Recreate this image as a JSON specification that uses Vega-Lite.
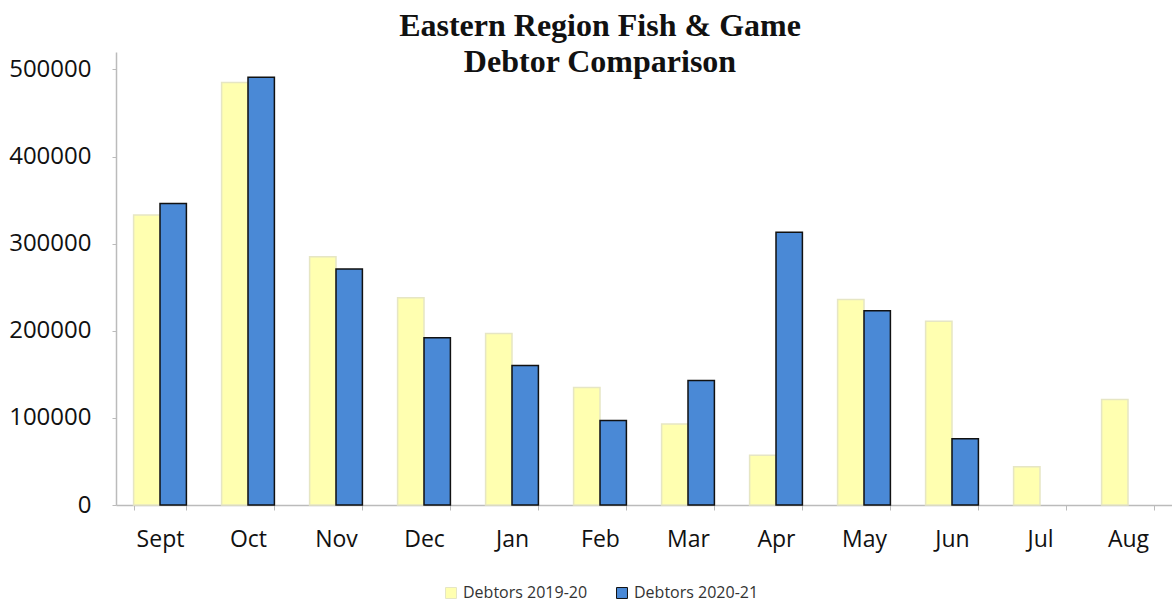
{
  "$schema": "https://vega.github.io/schema/vega-lite/v6.json",
  "autosize": "none",
  "width": 1056,
  "height": 453,
  "padding": {"left": 116, "top": 52, "right": 0, "bottom": 97},
  "background": "white",
  "title": {
    "text": ["Eastern Region Fish & Game", "Debtor Comparison"],
    "font": "Liberation Serif",
    "fontSize": 32,
    "fontWeight": "bold",
    "color": "#111111",
    "anchor": "middle",
    "frame": "group",
    "dx": -44,
    "offset": -27,
    "lineHeight": 36
  },
  "data": {
    "values": [
      {"month": "Sept", "series": "Debtors 2019-20", "value": 333000},
      {"month": "Sept", "series": "Debtors 2020-21", "value": 346000},
      {"month": "Oct", "series": "Debtors 2019-20", "value": 485000},
      {"month": "Oct", "series": "Debtors 2020-21", "value": 491000},
      {"month": "Nov", "series": "Debtors 2019-20", "value": 285000},
      {"month": "Nov", "series": "Debtors 2020-21", "value": 271000},
      {"month": "Dec", "series": "Debtors 2019-20", "value": 238000},
      {"month": "Dec", "series": "Debtors 2020-21", "value": 192000},
      {"month": "Jan", "series": "Debtors 2019-20", "value": 197000},
      {"month": "Jan", "series": "Debtors 2020-21", "value": 160000},
      {"month": "Feb", "series": "Debtors 2019-20", "value": 135000},
      {"month": "Feb", "series": "Debtors 2020-21", "value": 97000},
      {"month": "Mar", "series": "Debtors 2019-20", "value": 93000},
      {"month": "Mar", "series": "Debtors 2020-21", "value": 143000},
      {"month": "Apr", "series": "Debtors 2019-20", "value": 57000},
      {"month": "Apr", "series": "Debtors 2020-21", "value": 313000},
      {"month": "May", "series": "Debtors 2019-20", "value": 236000},
      {"month": "May", "series": "Debtors 2020-21", "value": 223000},
      {"month": "Jun", "series": "Debtors 2019-20", "value": 211000},
      {"month": "Jun", "series": "Debtors 2020-21", "value": 76000},
      {"month": "Jul", "series": "Debtors 2019-20", "value": 44000},
      {"month": "Aug", "series": "Debtors 2019-20", "value": 121000}
    ]
  },
  "mark": {"type": "bar", "strokeWidth": 1.5},
  "encoding": {
    "x": {
      "field": "month",
      "type": "nominal",
      "sort": null,
      "scale": {"paddingInner": 0.4, "paddingOuter": 0.2},
      "axis": {
        "title": null,
        "labelAngle": 0,
        "labelFont": "Open Sans",
        "labelFontSize": 23,
        "labelColor": "#111111",
        "labelPadding": 18,
        "domainColor": "#BBBBBB",
        "domainWidth": 1.5,
        "tickColor": "#BBBBBB",
        "tickSize": 5,
        "tickBand": "extent",
        "grid": false
      }
    },
    "xOffset": {"field": "series", "type": "nominal", "scale": {"domain": ["Debtors 2019-20", "Debtors 2020-21"]}},
    "y": {
      "field": "value",
      "type": "quantitative",
      "scale": {"domain": [0, 520000], "nice": false},
      "axis": {
        "title": null,
        "values": [0, 100000, 200000, 300000, 400000, 500000],
        "format": "d",
        "labelFont": "Open Sans",
        "labelFontSize": 24,
        "labelColor": "#111111",
        "labelPadding": 21,
        "domainColor": "#BBBBBB",
        "domainWidth": 1.5,
        "tickColor": "#BBBBBB",
        "tickSize": 4,
        "grid": false
      }
    },
    "color": {
      "field": "series",
      "type": "nominal",
      "scale": {"domain": ["Debtors 2019-20", "Debtors 2020-21"], "range": ["#FFFFB0", "#4A89D6"]},
      "legend": {
        "title": null,
        "orient": "none",
        "legendX": 327,
        "legendY": 533,
        "direction": "horizontal",
        "symbolType": "square",
        "symbolSize": 120,
        "symbolStrokeWidth": 1,
        "labelFont": "Open Sans",
        "labelFontSize": 16,
        "labelColor": "#333333",
        "labelOffset": 4,
        "columnPadding": 26
      }
    },
    "stroke": {
      "field": "series",
      "type": "nominal",
      "scale": {"domain": ["Debtors 2019-20", "Debtors 2020-21"], "range": ["#E6E6C4", "#111111"]},
      "legend": null
    }
  },
  "config": {"view": {"stroke": null}}
}
